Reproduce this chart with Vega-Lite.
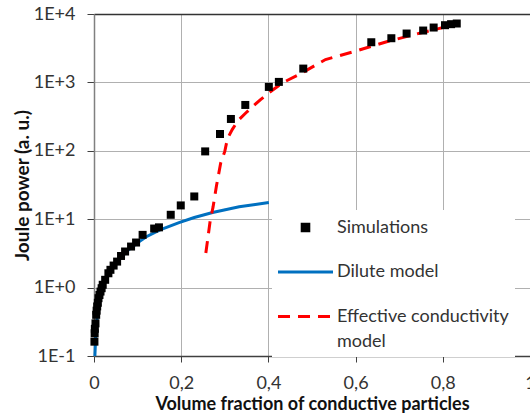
{
  "$schema": "https://vega.github.io/schema/vega-lite/v6.json",
  "width": 436,
  "height": 342,
  "autosize": {"type": "none"},
  "padding": {"left": 94, "top": 14, "right": 0, "bottom": 58},
  "config": {"font": "Lato", "view": {"stroke": null}},
  "data": {"values": [
    {"series": "Dilute model", "x": 0.002, "y": 0.1},
    {"series": "Dilute model", "x": 0.004, "y": 0.2},
    {"series": "Dilute model", "x": 0.007, "y": 0.35},
    {"series": "Dilute model", "x": 0.01, "y": 0.52},
    {"series": "Dilute model", "x": 0.015, "y": 0.78},
    {"series": "Dilute model", "x": 0.02, "y": 1.0},
    {"series": "Dilute model", "x": 0.03, "y": 1.45},
    {"series": "Dilute model", "x": 0.045, "y": 2.1},
    {"series": "Dilute model", "x": 0.058, "y": 2.6},
    {"series": "Dilute model", "x": 0.08, "y": 3.6},
    {"series": "Dilute model", "x": 0.104, "y": 4.7},
    {"series": "Dilute model", "x": 0.119, "y": 5.5},
    {"series": "Dilute model", "x": 0.15, "y": 6.9},
    {"series": "Dilute model", "x": 0.195, "y": 8.9},
    {"series": "Dilute model", "x": 0.23, "y": 10.6},
    {"series": "Dilute model", "x": 0.272, "y": 12.5},
    {"series": "Dilute model", "x": 0.333, "y": 15.2},
    {"series": "Dilute model", "x": 0.37, "y": 16.4},
    {"series": "Dilute model", "x": 0.401, "y": 17.6},
    {"series": "Effective conductivity model", "x": 0.2565, "y": 3.2},
    {"series": "Effective conductivity model", "x": 0.2615, "y": 5.5},
    {"series": "Effective conductivity model", "x": 0.2663, "y": 9.3},
    {"series": "Effective conductivity model", "x": 0.273, "y": 15},
    {"series": "Effective conductivity model", "x": 0.281, "y": 31},
    {"series": "Effective conductivity model", "x": 0.2905, "y": 66},
    {"series": "Effective conductivity model", "x": 0.3, "y": 98},
    {"series": "Effective conductivity model", "x": 0.306, "y": 150},
    {"series": "Effective conductivity model", "x": 0.317, "y": 204},
    {"series": "Effective conductivity model", "x": 0.33, "y": 275},
    {"series": "Effective conductivity model", "x": 0.348, "y": 357},
    {"series": "Effective conductivity model", "x": 0.365, "y": 450},
    {"series": "Effective conductivity model", "x": 0.382, "y": 560},
    {"series": "Effective conductivity model", "x": 0.401, "y": 702},
    {"series": "Effective conductivity model", "x": 0.432, "y": 984},
    {"series": "Effective conductivity model", "x": 0.47, "y": 1300},
    {"series": "Effective conductivity model", "x": 0.531, "y": 2158},
    {"series": "Effective conductivity model", "x": 0.599, "y": 2850},
    {"series": "Effective conductivity model", "x": 0.675, "y": 4000},
    {"series": "Effective conductivity model", "x": 0.751, "y": 5310},
    {"series": "Effective conductivity model", "x": 0.8126, "y": 6620},
    {"series": "Effective conductivity model", "x": 0.83, "y": 6950},
    {"series": "Simulations", "x": 0.001, "y": 0.162},
    {"series": "Simulations", "x": 0.0015, "y": 0.215},
    {"series": "Simulations", "x": 0.002, "y": 0.25},
    {"series": "Simulations", "x": 0.0034, "y": 0.3},
    {"series": "Simulations", "x": 0.005, "y": 0.4},
    {"series": "Simulations", "x": 0.006, "y": 0.46},
    {"series": "Simulations", "x": 0.0073, "y": 0.53},
    {"series": "Simulations", "x": 0.0088, "y": 0.6},
    {"series": "Simulations", "x": 0.0103, "y": 0.7},
    {"series": "Simulations", "x": 0.0125, "y": 0.78},
    {"series": "Simulations", "x": 0.0149, "y": 0.875},
    {"series": "Simulations", "x": 0.0175, "y": 0.98},
    {"series": "Simulations", "x": 0.02, "y": 1.1},
    {"series": "Simulations", "x": 0.0256, "y": 1.3},
    {"series": "Simulations", "x": 0.033, "y": 1.62},
    {"series": "Simulations", "x": 0.0377, "y": 1.82},
    {"series": "Simulations", "x": 0.045, "y": 2.1},
    {"series": "Simulations", "x": 0.053, "y": 2.4},
    {"series": "Simulations", "x": 0.062, "y": 2.9},
    {"series": "Simulations", "x": 0.0713, "y": 3.37},
    {"series": "Simulations", "x": 0.085, "y": 3.98},
    {"series": "Simulations", "x": 0.0965, "y": 4.56},
    {"series": "Simulations", "x": 0.1115, "y": 5.9},
    {"series": "Simulations", "x": 0.138, "y": 7.3},
    {"series": "Simulations", "x": 0.149, "y": 7.6},
    {"series": "Simulations", "x": 0.176, "y": 11.6},
    {"series": "Simulations", "x": 0.199, "y": 15.9},
    {"series": "Simulations", "x": 0.23, "y": 21.5},
    {"series": "Simulations", "x": 0.255, "y": 98},
    {"series": "Simulations", "x": 0.289, "y": 176},
    {"series": "Simulations", "x": 0.314, "y": 292},
    {"series": "Simulations", "x": 0.347, "y": 468},
    {"series": "Simulations", "x": 0.401, "y": 859},
    {"series": "Simulations", "x": 0.424, "y": 1017},
    {"series": "Simulations", "x": 0.48, "y": 1592},
    {"series": "Simulations", "x": 0.636, "y": 3864},
    {"series": "Simulations", "x": 0.682, "y": 4424},
    {"series": "Simulations", "x": 0.717, "y": 5180},
    {"series": "Simulations", "x": 0.755, "y": 5730},
    {"series": "Simulations", "x": 0.779, "y": 6340},
    {"series": "Simulations", "x": 0.805, "y": 6860},
    {"series": "Simulations", "x": 0.819, "y": 7100},
    {"series": "Simulations", "x": 0.832, "y": 7260}
  ]},
  "encoding": {
    "x": {
      "field": "x", "type": "quantitative",
      "scale": {"domain": [0, 1], "nice": false, "zero": false},
      "axis": {
        "title": "Volume fraction of conductive particles",
        "values": [0, 0.2, 0.4, 0.6, 0.8, 1],
        "labelExpr": "replace(format(datum.value, '.1~f'), '.', ',')",
        "labelFlush": false, "labelOverlap": false,
        "grid": true, "gridColor": "#b0b0b0", "gridWidth": 1,
        "domainColor": "#404040", "domainWidth": 1.5,
        "tickColor": "#404040", "tickSize": 6, "tickWidth": 1,
        "labelFontSize": 18, "labelColor": "#333333", "labelPadding": 12,
        "titleFontSize": 18, "titleFontWeight": "bold", "titleColor": "#111111", "titlePadding": 3
      }
    },
    "y": {
      "field": "y", "type": "quantitative",
      "scale": {"type": "log", "domain": [0.1, 10000], "nice": false},
      "axis": {
        "title": "Joule power (a. u.)",
        "values": [0.1, 1, 10, 100, 1000, 10000],
        "labelExpr": "'1E' + (datum.value >= 1 ? '+' : '-') + abs(round(log(datum.value) / LN10))",
        "labelOverlap": false, "labelFlush": false,
        "grid": true,
        "gridColor": {"condition": {"test": "datum.value >= 10000", "value": "#333333"}, "value": "#b0b0b0"},
        "gridWidth": {"condition": {"test": "datum.value >= 10000", "value": 1.5}, "value": 1},
        "domainColor": "#808080", "domainWidth": 1.5,
        "tickColor": "#404040", "tickSize": 7, "tickWidth": 1,
        "labelFontSize": 18, "labelColor": "#333333", "labelPadding": 12,
        "titleFontSize": 19, "titleFontWeight": "bold", "titleColor": "#111111", "titlePadding": 1
      }
    },
    "color": {
      "field": "series", "type": "nominal",
      "scale": {
        "domain": ["Simulations", "Dilute model", "Effective conductivity model"],
        "range": ["#000000", "#0070C0", "#FF0000"]
      },
      "legend": {
        "title": null,
        "orient": "none", "legendX": 178, "legendY": 196,
        "fillColor": "white", "padding": 6,
        "symbolSize": 400, "symbolStrokeWidth": 3, "symbolOffset": 16,
        "labelFontSize": 18, "labelColor": "#333333", "labelOffset": 20, "labelLimit": 300,
        "rowPadding": 23.5,
        "labelExpr": "datum.label === 'Effective conductivity model' ? ['Effective conductivity', 'model'] : datum.label",
        "encode": {
          "symbols": {"update": {
            "shape": {"signal": "datum.value === 'Simulations' ? 'M-0.33,-0.33H0.33V0.33H-0.33Z' : 'M-2.75,0H2.75'"},
            "fill": {"signal": "datum.value === 'Simulations' ? '#000000' : 'transparent'"},
            "stroke": {"signal": "datum.value === 'Simulations' ? 'transparent' : scale('color', datum.value)"},
            "strokeDash": {"signal": "datum.value === 'Effective conductivity model' ? [12, 8] : [1, 0]"},
            "strokeWidth": {"value": 3},
            "opacity": {"value": 1}
          }},
          "labels": {"update": {
            "lineHeight": {"signal": "25"}
          }}
        }
      }
    }
  },
  "layer": [
    {
      "transform": [{"filter": "datum.series === 'Dilute model'"}],
      "mark": {"type": "line", "strokeWidth": 3}
    },
    {
      "transform": [{"filter": "datum.series === 'Effective conductivity model'"}],
      "mark": {"type": "line", "strokeWidth": 3, "strokeDash": [12, 8]}
    },
    {
      "transform": [{"filter": "datum.series === 'Simulations'"}],
      "mark": {"type": "square", "filled": true, "size": 64, "opacity": 1}
    }
  ]
}
